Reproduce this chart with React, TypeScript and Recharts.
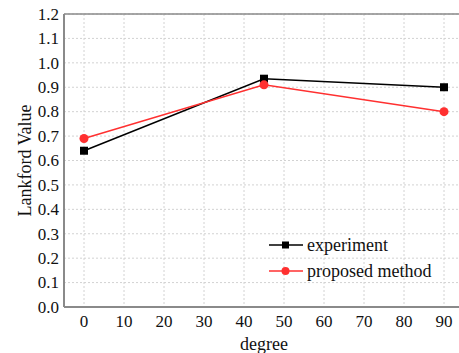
import {
  CartesianGrid,
  Line,
  LineChart,
  ReferenceLine,
  XAxis,
  YAxis,
} from "recharts";

const degrees = [0, 45, 90];
const experiment = [0.64, 0.935, 0.9];
const proposed = [0.69, 0.91, 0.8];
const xTicks = [0, 10, 20, 30, 40, 50, 60, 70, 80, 90];
const yTicks = [0, 0.1, 0.2, 0.3, 0.4, 0.5, 0.6, 0.7, 0.8, 0.9, 1.0, 1.1, 1.2];

const data = degrees.map((d, i) => ({
  degree: d,
  experiment: experiment[i],
  proposed: proposed[i],
}));

const font = "'Liberation Serif', 'Times New Roman', serif";
const axisGray = "#8a8a8a";
const red = "#ff3030";

const SquareDot = (props: any) => {
  const { cx, cy, index } = props;
  return <rect key={`sq-${index}`} x={cx - 4} y={cy - 4} width={8} height={8} fill="#000" />;
};

const XTick = (props: any) => {
  const { x, y, payload } = props;
  return (
    <text x={x} y={y} dy="0.71em" textAnchor="middle" style={{ fontFamily: font, fontSize: 17 }} fill="#111">
      {payload.value}
    </text>
  );
};

const YTick = (props: any) => {
  const { x, y, payload } = props;
  return (
    <text x={x} y={y} dy="0.34em" textAnchor="end" style={{ fontFamily: font, fontSize: 17 }} fill="#111">
      {Number(payload.value).toFixed(1)}
    </text>
  );
};

function LegendBox() {
  const rows = [
    { label: "experiment", color: "#000", square: true },
    { label: "proposed method", color: red, square: false },
  ];
  return (
    <div style={{ position: "absolute", left: 268, top: 232, fontFamily: font, fontSize: 18, color: "#111" }}>
      {rows.map((r) => (
        <div key={r.label} style={{ display: "flex", alignItems: "center", height: 26 }}>
          <svg width={36} height={12} style={{ marginRight: 3 }}>
            <line x1={1} y1={6} x2={35} y2={6} stroke={r.color} strokeWidth={1.5} />
            {r.square ? (
              <rect x={14} y={2.5} width={7} height={7} fill={r.color} />
            ) : (
              <circle cx={17.5} cy={6} r={4} fill={r.color} />
            )}
          </svg>
          <span>{r.label}</span>
        </div>
      ))}
    </div>
  );
}

export default function App() {
  return (
    <div style={{ position: "absolute", left: 0, top: 0, width: 459, height: 353, overflow: "hidden", background: "#fff", fontFamily: font }}>
      <LineChart
        width={480}
        height={353}
        data={data}
        margin={{ top: 14, right: 16, left: 0, bottom: 0 }}
        style={{ fontFamily: font }}
      >
        <CartesianGrid stroke="#d2d2d2" strokeDasharray="2 2" />
        <XAxis
          dataKey="degree"
          type="number"
          domain={[-5, 95]}
          ticks={xTicks}
          height={46}
          tickLine={false}
          tickSize={6}
          tickMargin={2}
          stroke={axisGray}
          strokeWidth={2}
          tick={XTick}
          label={{ value: "degree", position: "insideBottom", offset: 3, fontFamily: font, fontSize: 18, fill: "#111" }}
        />
        <YAxis
          type="number"
          domain={[0, 1.2]}
          ticks={yTicks}
          width={64}
          tickLine={false}
          tickSize={4}
          tickMargin={1}
          stroke={axisGray}
          strokeWidth={2}
          tick={YTick}
          label={{ value: "Lankford Value", angle: -90, position: "insideLeft", offset: 25, style: { textAnchor: "middle" }, fontFamily: font, fontSize: 18, fill: "#111" }}
        />
        <ReferenceLine y={1.2} stroke={axisGray} strokeWidth={1.5} />
        <Line
          type="linear"
          dataKey="experiment"
          stroke="#000"
          strokeWidth={1.5}
          dot={SquareDot}
          activeDot={false}
          isAnimationActive={false}
        />
        <Line
          type="linear"
          dataKey="proposed"
          stroke={red}
          strokeWidth={1.5}
          dot={{ r: 4.5, fill: red, stroke: red, strokeWidth: 0 }}
          activeDot={false}
          isAnimationActive={false}
        />
      </LineChart>
      <LegendBox />
    </div>
  );
}
